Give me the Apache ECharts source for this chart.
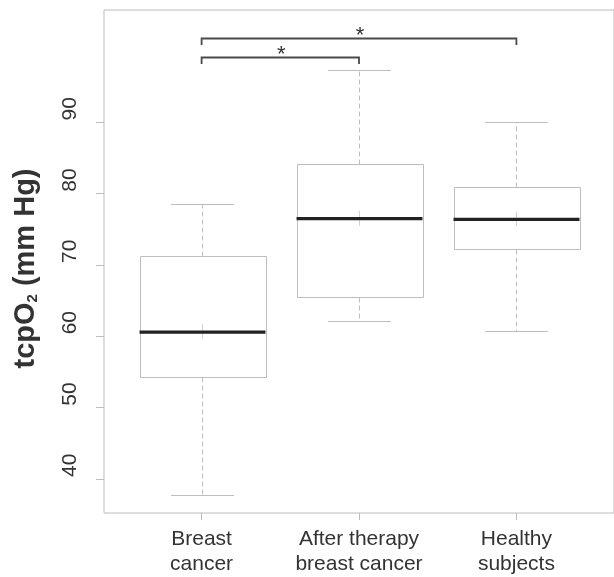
<!DOCTYPE html>
<html><head><meta charset="utf-8">
<script src="https://cdn.jsdelivr.net/npm/echarts@6/dist/echarts.min.js"></script>
<style>html,body{margin:0;padding:0;background:#fff}#c{width:614px;height:577px}</style>
</head><body><div id="c"></div>
<script>
// ---- data ----
const categories = ['Breast\ncancer', 'After therapy\nbreast cancer', 'Healthy\nsubjects'];
const whiskerLow = [37.7, 62.1, 60.8];
const q1 = [54.3, 65.5, 72.2];
const median = [60.6, 76.5, 76.4];
const q3 = [71.2, 84.1, 80.9];
const whiskerHigh = [78.5, 97.3, 90.1];
const yTicks = [40, 50, 60, 70, 80, 90];
const sigFrom = [1, 1];
const sigTo = [2, 3];
const sigLevel = [99.2, 101.9];
const sigLabel = ['*', '*'];

// ---- build ----
const boxData = categories.map((c, i) => [i + 1, whiskerLow[i], q1[i], median[i], q3[i], whiskerHigh[i]]);
const sigData = sigFrom.map((f, i) => [f, sigTo[i], sigLevel[i], i]);
const GREY = '#bdbdbd';

function renderBox(params, api) {
  const x = api.value(0);
  const lo = api.coord([x, api.value(1)]);
  const b1 = api.coord([x, api.value(2)]);
  const md = api.coord([x, api.value(3)]);
  const b3 = api.coord([x, api.value(4)]);
  const hi = api.coord([x, api.value(5)]);
  const bw = api.size([0.8, 0])[0];
  const cw = api.size([0.4, 0])[0];
  const cx = Math.round(lo[0]) + 0.5;
  const r = v => Math.round(v) + 0.5;
  const dash = { stroke: GREY, lineWidth: 1, lineDash: [5, 3] };
  const solid = { stroke: GREY, lineWidth: 1 };
  return {
    type: 'group',
    children: [
      { type: 'line', shape: { x1: cx, y1: r(b3[1]), x2: cx, y2: r(hi[1]) }, style: dash },
      { type: 'line', shape: { x1: cx, y1: r(b1[1]), x2: cx, y2: r(lo[1]) }, style: dash },
      { type: 'line', shape: { x1: cx - cw / 2, y1: r(hi[1]), x2: cx + cw / 2, y2: r(hi[1]) }, style: solid },
      { type: 'line', shape: { x1: cx - cw / 2, y1: r(lo[1]), x2: cx + cw / 2, y2: r(lo[1]) }, style: solid },
      { type: 'rect', shape: { x: r(cx - bw / 2), y: r(b3[1]), width: Math.round(bw), height: Math.round(b1[1] - b3[1]) },
        style: { fill: '#fff', stroke: GREY, lineWidth: 1 } },
      { type: 'line', shape: { x1: cx, y1: md[1] - 8, x2: cx, y2: md[1] + 7 }, style: { stroke: '#d0d0d0', lineWidth: 1 } },
      { type: 'line', shape: { x1: cx - bw / 2, y1: md[1], x2: cx + bw / 2, y2: md[1] }, style: { stroke: '#222', lineWidth: 3.2 } }
    ]
  };
}

function renderSig(params, api) {
  const a = api.coord([api.value(0), api.value(2)]);
  const b = api.coord([api.value(1), api.value(2)]);
  const drop = api.size([0, 0.9])[1];
  const y = Math.round(a[1]) + 0.5;
  const idx = api.value(3);
  return {
    type: 'group',
    children: [
      { type: 'polyline', shape: { points: [[a[0], y + drop], [a[0], y], [b[0], y], [b[0], y + drop]] },
        style: { stroke: '#4a4a4a', lineWidth: 1.8, fill: null } },
      { type: 'text', x: (a[0] + b[0]) / 2 + 1, y: y - 3,
        style: { text: sigLabel[idx], fontSize: 22, fontFamily: 'Liberation Sans, Arial', fill: '#333', align: 'center', verticalAlign: 'middle' } }
    ]
  };
}

const chart = echarts.init(document.getElementById('c'), null, { renderer: 'canvas' });
chart.setOption({
  animation: false,
  backgroundColor: '#fff',
  grid: { left: 104, top: 10, width: 513.5, height: 503, show: true, borderColor: GREY, borderWidth: 1, backgroundColor: 'transparent', containLabel: false },
  xAxis: {
    type: 'value', min: 0.38, max: 3.62,
    splitLine: { show: false },
    axisLine: { show: false },
    axisTick: { show: true, customValues: [1, 2, 3], length: 7, lineStyle: { color: GREY } },
    axisLabel: { customValues: [1, 2, 3], formatter: v => categories[Math.round(v) - 1], fontSize: 21, lineHeight: 25, color: '#333', fontFamily: 'Liberation Sans, Arial', margin: 14 }
  },
  yAxis: {
    type: 'value', min: 35.23, max: 105.76,
    splitLine: { show: false },
    axisLine: { show: false },
    axisTick: { show: true, customValues: yTicks, length: 8, lineStyle: { color: GREY } },
    axisLabel: { customValues: yTicks, rotate: 90, align: 'left', fontSize: 21, color: '#333', fontFamily: 'Liberation Sans, Arial', margin: 23, padding: [0, 0, 0, 2] },
    name: '{a|tcpO}{s|2}{a| (mm Hg)}',
    nameLocation: 'middle', nameRotate: 90, nameGap: 64,
    nameTextStyle: {
      padding: [0, 14, 0, 0],
      rich: {
        a: { fontSize: 29, fontWeight: 'bold', color: '#333', fontFamily: 'Liberation Sans, Arial' },
        s: { fontSize: 15, fontWeight: 'bold', color: '#333', fontFamily: 'Liberation Sans, Arial', verticalAlign: 'bottom', padding: [8, 0, 0, 0] }
      }
    }
  },
  series: [
    { type: 'custom', renderItem: renderBox, data: boxData, encode: { x: 0, y: [1, 2, 3, 4, 5] }, clip: false },
    { type: 'custom', renderItem: renderSig, data: sigData, encode: { x: [0, 1], y: 2 }, clip: false }
  ]
});
</script></body></html>
